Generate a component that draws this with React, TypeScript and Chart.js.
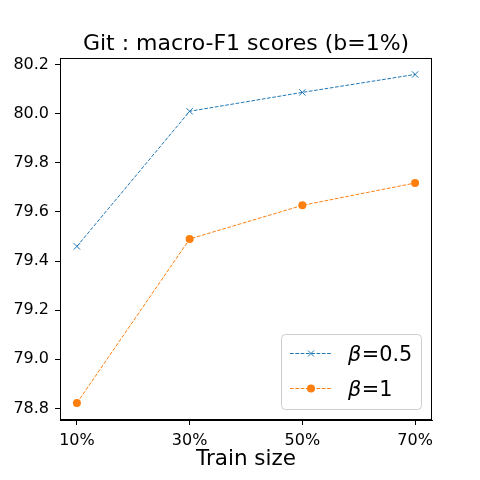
import React, { useEffect, useRef } from "react";
import { Chart, registerables } from "chart.js";

Chart.register(...registerables);

const trainSizes = ["10%", "30%", "50%", "70%"];
const beta05 = [79.46, 80.01, 80.087, 80.16];
const beta1 = [78.822, 79.49, 79.627, 79.718];
const seriesLabels = ["β=0.5", "β=1"];
const yTicks = [78.8, 79.0, 79.2, 79.4, 79.6, 79.8, 80.0, 80.2];
const titleText = "Git : macro-F1 scores (b=1%)";
const xTitle = "Train size";

const FONT = "'DejaVu Sans', sans-serif";

const framePlugin = {
  id: "frame",
  afterDraw(chart: any) {
    const { ctx, chartArea } = chart;
    ctx.save();
    ctx.strokeStyle = "#000";
    ctx.lineWidth = 1;
    ctx.strokeRect(
      Math.round(chartArea.left) + 0.5,
      Math.round(chartArea.top) + 0.5,
      Math.round(chartArea.right - chartArea.left) - 1,
      Math.round(chartArea.bottom - chartArea.top) - 1
    );
    ctx.restore();
  },
};

const legendPlugin = {
  id: "innerLegend",
  afterDraw(chart: any) {
    const { ctx } = chart;
    const x0 = 281, y0 = 334, w = 140, h = 75;
    ctx.save();
    ctx.beginPath();
    ctx.roundRect(x0 + 0.5, y0 + 0.5, w, h, 4);
    ctx.fillStyle = "rgba(255,255,255,0.8)";
    ctx.fill();
    ctx.strokeStyle = "#cccccc";
    ctx.lineWidth = 1;
    ctx.stroke();
    chart.data.datasets.forEach((ds: any, i: number) => {
      const y = 353 + i * 35;
      ctx.beginPath();
      ctx.setLineDash(ds.borderDash);
      ctx.strokeStyle = ds.borderColor;
      ctx.lineWidth = 1;
      ctx.moveTo(290, y + 0.5);
      ctx.lineTo(332, y + 0.5);
      ctx.stroke();
      ctx.setLineDash([]);
      const mx = 311;
      if (ds.pointStyle === "crossRot") {
        const r = 3;
        ctx.beginPath();
        ctx.moveTo(mx - r, y + 0.5 - r);
        ctx.lineTo(mx + r, y + 0.5 + r);
        ctx.moveTo(mx - r, y + 0.5 + r);
        ctx.lineTo(mx + r, y + 0.5 - r);
        ctx.stroke();
      } else {
        ctx.beginPath();
        ctx.arc(mx, y + 0.5, ds.pointRadius, 0, Math.PI * 2);
        ctx.fillStyle = ds.pointBackgroundColor;
        ctx.fill();
      }
      const label: string = ds.label;
      ctx.fillStyle = "#000";
      ctx.textBaseline = "alphabetic";
      ctx.textAlign = "left";
      ctx.font = `italic 20.8px ${FONT}`;
      const first = label.charAt(0);
      ctx.fillText(first, 348, y + 8);
      const fw = ctx.measureText(first).width;
      ctx.font = `20.8px ${FONT}`;
      ctx.fillText(label.slice(1), 348 + fw + 0.5, y + 8);
    });
    ctx.restore();
  },
};

export default function App() {
  const ref = useRef<HTMLCanvasElement>(null);
  useEffect(() => {
    if (!ref.current) return;
    const chart = new Chart(ref.current, {
      type: "line",
      data: {
        datasets: [
          {
            label: seriesLabels[0],
            data: beta05.map((v, i) => ({ x: i, y: v })),
            borderColor: "#1f77b4",
            backgroundColor: "#1f77b4",
            borderWidth: 1,
            borderDash: [3.7, 1.6],
            pointStyle: "crossRot",
            pointRadius: 4.5,
            pointBorderWidth: 1,
            pointBorderColor: "#1f77b4",
            pointBackgroundColor: "#1f77b4",
            fill: false,
          },
          {
            label: seriesLabels[1],
            data: beta1.map((v, i) => ({ x: i, y: v })),
            borderColor: "#ff7f0e",
            backgroundColor: "#ff7f0e",
            borderWidth: 1,
            borderDash: [3.7, 1.6],
            pointStyle: "circle",
            pointRadius: 4,
            pointBorderWidth: 0,
            pointBorderColor: "#ff7f0e",
            pointBackgroundColor: "#ff7f0e",
            fill: false,
          },
        ],
      },
      options: {
        animation: false,
        responsive: false,
        layout: { padding: { left: 0, right: 48, top: 0, bottom: 0 } },
        plugins: {
          legend: { display: false },
          tooltip: { enabled: false },
          title: {
            display: true,
            text: titleText,
            fullSize: false,
            color: "#000",
            font: { family: FONT, size: 22, weight: "normal" },
            padding: { top: 31, bottom: 0.6 },
          },
        },
        scales: {
          x: {
            type: "linear",
            min: -0.15,
            max: 3.15,
            afterBuildTicks(scale: any) {
              scale.ticks = trainSizes.map((_, i) => ({ value: i }));
            },
            afterFit(scale: any) {
              scale.height = 60;
            },
            ticks: {
              callback: (v: any) => trainSizes[v as number] ?? "",
              color: "#000",
              font: { family: FONT, size: 16 },
              padding: 6,
              maxRotation: 0,
              autoSkip: false,
            },
            grid: {
              display: true,
              drawOnChartArea: false,
              drawTicks: true,
              tickLength: 5,
              color: "#000",
            },
            border: { display: true, color: "#000", width: 1 },
            title: {
              display: true,
              text: xTitle,
              color: "#000",
              font: { family: FONT, size: 21.5 },
              padding: { top: 0, bottom: 8 },
            },
          },
          y: {
            type: "linear",
            min: 78.753,
            max: 80.227,
            afterBuildTicks(scale: any) {
              scale.ticks = yTicks.map((v) => ({ value: v }));
            },
            afterFit(scale: any) {
              scale.width = 60;
            },
            ticks: {
              callback: (v: any) => Number(v).toFixed(1),
              color: "#000",
              font: { family: FONT, size: 16 },
              padding: 6,
              autoSkip: false,
            },
            grid: {
              display: true,
              drawOnChartArea: false,
              drawTicks: true,
              tickLength: 5,
              color: "#000",
            },
            border: { display: true, color: "#000", width: 1 },
          },
        },
      },
      plugins: [framePlugin, legendPlugin],
    } as any);
    return () => chart.destroy();
  }, []);
  return (
    <div style={{ position: "absolute", left: 0, top: 0, width: 480, height: 480, background: "#fff" }}>
      <canvas ref={ref} width={480} height={480} />
    </div>
  );
}
